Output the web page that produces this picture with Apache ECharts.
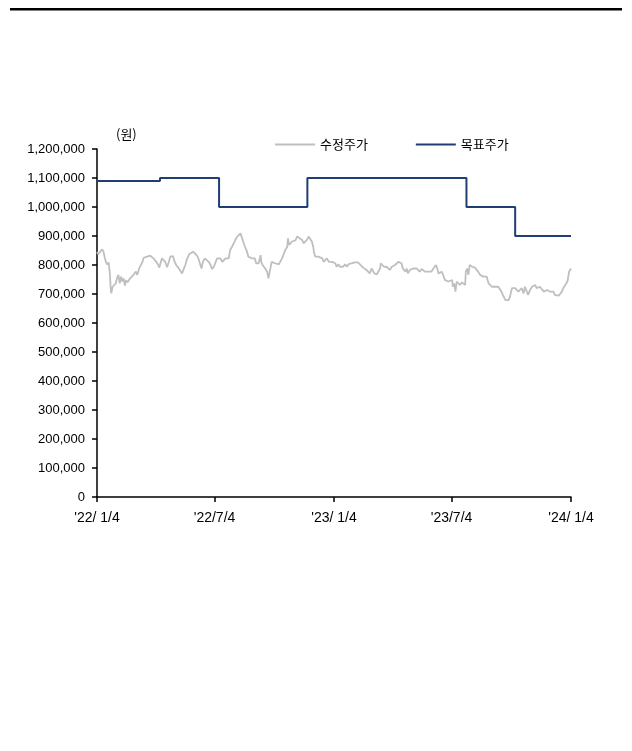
<!DOCTYPE html>
<html>
<head>
<meta charset="utf-8">
<script src="https://cdn.jsdelivr.net/npm/echarts@6/dist/echarts.min.js"></script>
<style>
  html, body { margin: 0; padding: 0; background: #ffffff; }
  #chart { width: 632px; height: 751px; }
</style>
</head>
<body>
<div id="chart"></div>
<script>
// x positions are calendar days counted from 2022-01-04

// x-axis ticks (days from start) and their labels
const tickDays = [0, 181, 365, 546, 730];
const tickLabels = ["'22/ 1/4", "'22/7/4", "'23/ 1/4", "'23/7/4", "'24/ 1/4"];

const seriesNames = ['수정주가', '목표주가'];
const unitLabel = '(원)';

// Adjusted close (thousand won)
const priceDays = [
  0, 2, 5, 8, 10, 12, 14, 16, 18, 20, 21, 22, 24, 27, 29, 31, 33, 35, 37, 39,
  41, 43, 45, 47, 50, 53, 56, 58, 60, 62, 65, 67, 70, 72, 76, 79, 82, 84, 87, 90,
  93, 96, 98, 100, 102, 105, 108, 111, 113, 117, 119, 122, 125, 128, 131, 133, 136, 139, 142, 145,
  148, 151, 154, 156, 159, 161, 163, 166, 169, 172, 175, 177,
  180, 182, 185, 187, 190, 193, 195, 198, 200, 203, 205, 208, 211, 213, 216, 218, 221, 223,
  226, 228, 231, 233, 235, 238, 240, 243, 245, 247, 249, 252, 253, 255, 257, 259, 262, 264,
  266, 269, 271, 274, 277, 280, 282, 285, 288, 290, 293, 294, 296, 298, 300, 303, 306, 308,
  310, 312, 314, 316, 318, 321, 323, 326, 329, 331, 333, 334, 336, 339, 341, 344, 347, 349,
  352, 354, 357, 359, 362,
  365, 367, 369, 372, 374, 377, 379, 382, 385, 387, 390, 392, 395, 397, 400, 402, 405, 408,
  410, 413, 415, 418, 420, 423, 425, 427, 429, 431, 433, 436, 437, 440, 442, 444, 446, 449,
  451, 454, 456, 459, 462, 464, 467, 469, 471, 473, 475, 477, 479, 482, 485, 487, 490, 492,
  495, 497, 500, 503, 505, 508, 510, 513, 515, 518, 521, 522, 524, 526, 528, 531, 533, 536,
  539, 541, 544, 547,
  548, 550, 552, 554, 557, 559, 562, 564, 567, 568, 570, 572, 574, 576, 578, 580, 582, 585,
  587, 590, 592, 595, 598, 600, 603, 605, 608, 610, 613, 616, 618, 621, 623, 625, 627, 629,
  631, 634, 636, 639, 641, 644, 646, 649, 652, 654, 657, 659, 662, 664, 667, 670, 672, 675,
  677, 680, 682, 685, 688, 690, 693, 695, 698, 700, 703, 705, 708, 711, 713, 716, 718, 721,
  723, 725, 727, 729, 730
];
const priceValues = [
  845, 837, 846, 854, 846, 825, 809, 802, 809, 766, 720, 702, 725, 725, 737, 756, 766, 737, 760, 743,
  754, 729, 748, 740, 751, 754, 766, 760, 777, 766, 788, 794, 811, 825, 828, 823, 832, 837, 823, 814,
  806, 791, 786, 823, 829, 811, 792, 814, 829, 831, 814, 800, 791, 786, 771, 783, 800, 823, 837, 843,
  846, 844, 832, 823, 802, 788, 811, 823, 823, 811, 800, 786,
  794, 806, 823, 829, 823, 811, 817, 823, 829, 823, 852, 863, 869, 886, 898, 892, 909, 903,
  875, 863, 846, 829, 834, 823, 829, 823, 806, 811, 806, 834, 811, 800, 800, 788, 777, 754,
  760, 811, 811, 806, 806, 802, 806, 823, 840, 852, 863, 892, 869, 875, 880, 875, 886, 898,
  903, 892, 898, 886, 875, 880, 886, 898, 892, 880, 863, 846, 829, 823, 829, 829, 823, 811,
  811, 823, 811, 817, 811,
  806, 806, 794, 802, 794, 800, 794, 802, 794, 802, 798, 806, 800, 809, 814, 809, 802, 800,
  791, 794, 783, 777, 771, 788, 794, 771, 766, 768, 766, 788, 806, 809, 794, 791, 794, 788,
  783, 794, 788, 800, 802, 811, 814, 806, 788, 791, 777, 788, 771, 783, 777, 788, 783, 788,
  783, 777, 786, 783, 777, 783, 777, 783, 777, 788, 794, 800, 788, 771, 768, 777, 766, 748,
  754, 743, 740, 748,
  725, 737, 708, 743, 737, 731, 740, 737, 731, 777, 788, 766, 800, 806, 794, 800, 791, 794,
  777, 766, 771, 760, 754, 760, 737, 731, 725, 731, 725, 731, 725, 720, 708, 697, 691, 679,
  676, 679, 691, 720, 725, 720, 720, 708, 702, 720, 702, 725, 720, 697, 714, 725, 720, 731,
  720, 725, 725, 720, 708, 702, 714, 720, 708, 702, 708, 697, 702, 694, 699, 708, 720, 725,
  737, 748, 777, 783, 788
];

// Target price (won): each value holds until the next change
const targetDays = [0, 97, 188, 324, 569, 644, 730];
const targetValues = [1090000, 1100000, 1000000, 1100000, 1000000, 900000, 900000];

const priceData = priceDays.map((d, i) => [d, priceValues[i] * 1000]);
const targetData = targetDays.map((d, i) => [d, targetValues[i]]);

const numFont = "'Liberation Sans', Arial, sans-serif";
const krFont = "'Noto Sans CJK KR', sans-serif";

const chart = echarts.init(document.getElementById('chart'), null, { renderer: 'canvas' });

chart.setOption({
  animation: false,
  backgroundColor: '#ffffff',
  grid: { left: 97, top: 149, right: 61, bottom: 254, containLabel: false },
  legend: {
    data: seriesNames,
    left: 275,
    top: 138,
    padding: 0,
    icon: 'rect',
    itemWidth: 40,
    itemHeight: 2,
    itemGap: 48,
    textStyle: { fontFamily: krFont, fontSize: 13, color: '#000000' }
  },
  xAxis: {
    type: 'value',
    min: tickDays[0],
    max: tickDays[tickDays.length - 1],
    axisLine: { show: true, onZero: false, lineStyle: { color: '#000000', width: 1.5 } },
    axisTick: { show: true, length: 5, customValues: tickDays, lineStyle: { color: '#000000', width: 1.5 } },
    axisLabel: {
      customValues: tickDays,
      formatter: function (v) {
        const i = tickDays.indexOf(v);
        return i >= 0 ? tickLabels[i] : '';
      },
      color: '#000000',
      fontFamily: numFont,
      fontSize: 14,
      margin: 14,
      hideOverlap: false
    },
    splitLine: { show: false }
  },
  yAxis: {
    type: 'value',
    min: 0,
    max: 1200000,
    interval: 100000,
    axisLine: { show: true, lineStyle: { color: '#000000', width: 1.5 } },
    axisTick: { show: true, length: 5, lineStyle: { color: '#000000', width: 1.5 } },
    axisLabel: {
      formatter: v => v.toLocaleString('en-US'),
      color: '#000000',
      fontFamily: numFont,
      fontSize: 13,
      margin: 12
    },
    splitLine: { show: false }
  },
  series: [
    {
      name: seriesNames[0],
      type: 'line',
      data: priceData,
      showSymbol: false,
      symbol: 'none',
      lineStyle: { color: '#bfbfbf', width: 1.8 },
      itemStyle: { color: '#bfbfbf' },
      z: 2
    },
    {
      name: seriesNames[1],
      type: 'line',
      data: targetData,
      step: 'end',
      showSymbol: false,
      symbol: 'none',
      lineStyle: { color: '#1f3f72', width: 2 },
      itemStyle: { color: '#1f3f72' },
      z: 3
    }
  ],
  graphic: [
    {
      type: 'rect',
      shape: { x: 10, y: 8, width: 612, height: 2.5 },
      style: { fill: '#000000' }
    },
    {
      type: 'text',
      x: 116,
      y: 128,
      style: { text: unitLabel, font: "13px " + krFont, fill: '#000000' }
    }
  ]
});
</script>
</body>
</html>
